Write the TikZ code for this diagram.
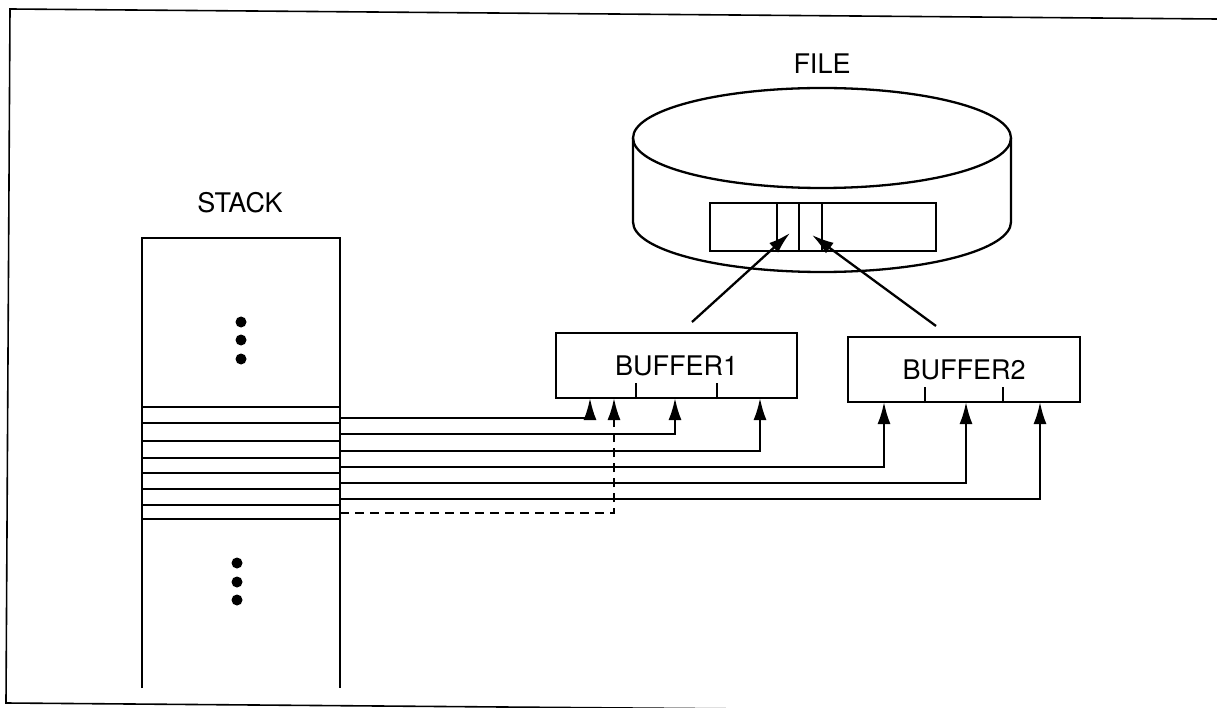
\documentclass[tikz,border=0pt]{standalone}
\usepackage{fontspec}
\setmainfont{TeX Gyre Heros}
\usetikzlibrary{arrows.meta,calc}
\begin{document}
\begin{tikzpicture}[x=1pt,y=-1pt,line width=2.3pt,
  arr/.style={-{Latex[length=22pt,width=13pt]}},
  lbl/.style={font=\fontsize{27}{30}\selectfont,inner sep=0pt},
  box/.style={draw,inner sep=0pt,minimum height=65pt,font=\fontsize{27}{30}\selectfont}]
\useasboundingbox (0,0) rectangle (1217,708);
% frame
\draw[line width=1.6pt] (1217,19) -- (10,9) -- (6,703) -- (1000,711);

% labels
\node[lbl] (stacklbl) at (240,203) {STACK};
\node[lbl] (filelbl) at (822,64) {FILE};

% stack
\draw (142,688) -- (142,238) -- (340,238) -- (340,688);
\foreach \y in {407,423,441,458,473,489,505,519}
  \draw (142,\y) -- (340,\y);
\foreach \y in {322,340,359} \fill (241,\y) circle[radius=5.5pt];
\foreach \y in {563,582,600} \fill (237,\y) circle[radius=5.5pt];

% slot exits
\coordinate (s1) at (340,418);
\coordinate (s2) at (340,434);
\coordinate (s3) at (340,451);
\coordinate (s4) at (340,467);
\coordinate (s5) at (340,483);
\coordinate (s6) at (340,499);
\coordinate (s7) at (340,513);

% file cylinder
\draw (822,138) ellipse[x radius=189pt,y radius=50pt];
\draw (633,138) -- (633,222) arc[start angle=180,end angle=360,x radius=189pt,y radius=50pt] -- (1011,138);
\draw (710,203) rectangle (936,251);
\draw (777,203) -- (777,251);
\draw (799,203) -- (799,251);
\draw (822,203) -- (822,251);
\coordinate (f1) at (790,233);
\coordinate (f2) at (812,235);

% buffers
\node[box,minimum width=241pt] (buf1) at (676.5,365.5) {BUFFER1};
\node[box,minimum width=232pt] (buf2) at (964,369.5) {BUFFER2};
\foreach \b in {buf1,buf2}{
  \draw ($(\b.south west)!1/3!(\b.south east)$) -- ++(0,-16);
  \draw ($(\b.south west)!2/3!(\b.south east)$) -- ++(0,-16);
}
\coordinate (a1) at (692,322);
\coordinate (a2) at (936,326);
\draw[arr] (a1) -- (f1);
\draw[arr] (a2) -- (f2);

% buffer inputs
\coordinate (b1a) at (590,398);
\coordinate (b1d) at (614,398);
\coordinate (b1b) at (675,398);
\coordinate (b1c) at (760,398);
\coordinate (b2a) at (884,402);
\coordinate (b2b) at (966,402);
\coordinate (b2c) at (1040,402);

\draw[arr] (s1) -| (b1a);
\draw[arr] (s2) -| (b1b);
\draw[arr] (s3) -| (b1c);
\draw[arr] (s4) -| (b2a);
\draw[arr] (s5) -| (b2b);
\draw[arr] (s6) -| (b2c);
\draw[arr,dash pattern=on 9pt off 6pt] (s7) -| (b1d);
\end{tikzpicture}
\end{document}
